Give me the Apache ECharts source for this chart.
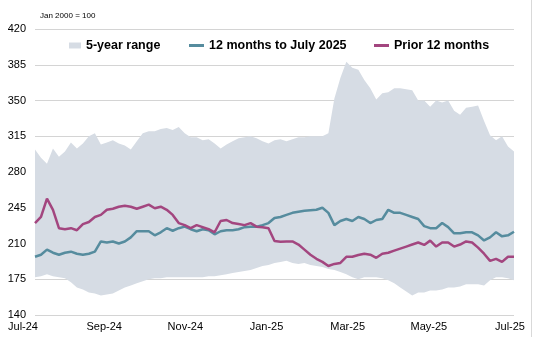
<!DOCTYPE html>
<html><head><meta charset="utf-8">
<script src="https://cdn.jsdelivr.net/npm/echarts@6/dist/echarts.min.js"></script>
<style>html,body{margin:0;padding:0;background:#fff}#c{width:533px;height:337px}</style>
</head><body><div id="c"></div>
<script>
// Sample positions (roughly every 4.5 days, Jul-24 .. Jul-25)
const xLabels = ['Jul-24','Sep-24','Nov-24','Jan-25','Mar-25','May-25','Jul-25'];
const yTicks = [140,175,210,245,280,315,350,385,420];
const rangeHigh = [302,294,288,303,295,300,309,303,308,315,
  318,307,309,311,308,306,302,310,318,320,
  320,322,323,321,324,318,314,314,311,312,
  308,303,307,310,313,314,315,313,310,308,
  311,312,310,312,314,314,315,315,315,318,
  352,372,388,382,380,370,362,351,357,358,
  362,362,361,360,350,350,344,350,348,350,
  340,336,343,344,345,330,316,311,315,305,300];
const rangeLow = [177,178,180,178,177,176,172,167,165,162,
  161,159,160,161,164,167,169,171,173,175,
  176,176,177,177,177,177,177,177,177,178,
  178,179,180,181,182,183,184,186,188,189,
  191,192,193,191,190,191,189,188,187,185,
  184,182,180,177,175,177,177,177,176,174,
  171,167,163,159,162,162,164,164,165,167,
  167,168,170,170,170,169,174,177,177,176,174];
const current12 = [197,199,204,201,199,201,202,200,199,200,
  202,212,211,212,210,212,216,222,222,222,
  218,221,225,222.5,225,226.5,224,222,224,223,
  219,222,223,223,224,226,226.5,226.5,228,230,
  235,236,238,240,241,242,242.5,243,245,240,
  228,232,234,232,236,234,230,233,234,243,
  240,240,238,236,234,227,225,225,230,226,
  220,220,221,221,218,213,216,221,217,218,221.5];
const prior12 = [230,236,254,243,225,224,225,223,229,231,
  236,238,243,244,246,247,246,244,246,248,
  244.5,246,243,238,230,228,225,228,226,224,
  221,232,233,230,229,228,230,226.5,226,225,
  212.5,211.8,212,212,209,204,199,195,192,188,
  190,191,197,197,198.7,200,199,196,200,201,
  203,205,207,209,211,208.6,212.8,207,211,211,
  207,209,212,211,206,200,193,195,192,197,197];

const idx = rangeHigh.map((_, i) => i);
const bandDiff = rangeHigh.map((h, i) => h - rangeLow[i]);

const BAND = '#d6dce4', TEAL = '#568c9e', PINK = '#a3467f';
const font = 'Liberation Sans, Arial, sans-serif';
const chart = echarts.init(document.getElementById('c'), null, {renderer: 'canvas'});
const legendBase = {top: 34, itemGap: 0, textStyle: {fontFamily: font, fontSize: 12.5, fontWeight: 'bold', color: '#000'}, selectedMode: false};
chart.setOption({
  animation: false,
  grid: [
    {left: 35, right: 19, top: 29, bottom: 22},
    {left: 23, right: 23, top: 29, bottom: 22}
  ],
  legend: [
    Object.assign({}, legendBase, {left: 64, itemWidth: 12, itemHeight: 6, data: [{name: '5-year range', icon: 'rect'}]}),
    Object.assign({}, legendBase, {left: 184, itemWidth: 15, itemHeight: 3, data: [{name: '12 months to July 2025', icon: 'rect'}]}),
    Object.assign({}, legendBase, {left: 369, itemWidth: 15, itemHeight: 3, data: [{name: 'Prior 12 months', icon: 'rect'}]})
  ],
  graphic: [
    {type: 'text', left: 40, top: 12, style: {text: 'Jan 2000 = 100', font: '8px ' + font, fill: '#000'}},
    {type: 'line', shape: {x1: 531.5, y1: 0, x2: 531.5, y2: 337}, style: {stroke: '#d9d9d9', lineWidth: 1}}
  ],
  xAxis: [
    {gridIndex: 0, type: 'category', data: idx, boundaryGap: false, show: false},
    {gridIndex: 1, type: 'value', min: 0, max: 12, interval: 2,
     axisLine: {show: false}, axisTick: {show: false}, splitLine: {show: false},
     axisLabel: {margin: 6, fontFamily: font, fontSize: 11, color: '#000',
       formatter: v => xLabels[Math.round(v / 2)] || ''}}
  ],
  yAxis: [
    {gridIndex: 0, type: 'value', min: yTicks[0], max: yTicks[yTicks.length - 1], interval: 35,
     axisLine: {show: false}, axisTick: {show: false},
     splitLine: {lineStyle: {color: '#d4d4d4', width: 1}},
     axisLabel: {margin: 9, fontFamily: font, fontSize: 11, color: '#000'}},
    {gridIndex: 1, type: 'value', min: 0, max: 1, show: false}
  ],
  series: [
    {name: 'base', type: 'line', stack: 'band', data: rangeLow, symbol: 'none',
     lineStyle: {opacity: 0}, silent: true},
    {name: '5-year range', type: 'line', stack: 'band', data: bandDiff, symbol: 'none',
     lineStyle: {opacity: 0, width: 0}, itemStyle: {color: BAND}, areaStyle: {color: BAND, opacity: 1}, silent: true},
    {name: '12 months to July 2025', type: 'line', data: current12, symbol: 'none',
     itemStyle: {color: TEAL}, lineStyle: {color: TEAL, width: 2.5}},
    {name: 'Prior 12 months', type: 'line', data: prior12, symbol: 'none',
     itemStyle: {color: PINK}, lineStyle: {color: PINK, width: 2.5}}
  ]
});
</script></body></html>
